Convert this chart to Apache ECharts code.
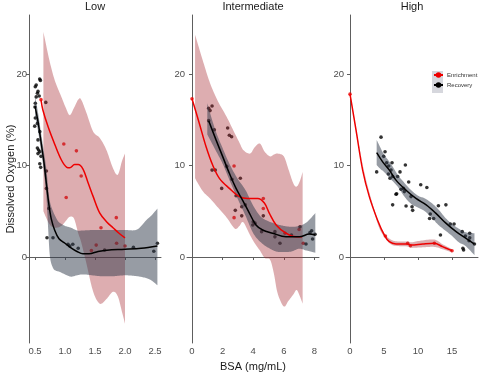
<!DOCTYPE html>
<html><head><meta charset="utf-8">
<script src="https://cdn.jsdelivr.net/npm/echarts@6/dist/echarts.min.js"></script>
<style>html,body{margin:0;padding:0;background:#fff}#c{width:480px;height:379px}</style>
</head><body><div id="c"></div>
<script>
// ---------- DATA ----------
const panelTitles = ['Low', 'Intermediate', 'High'];
const yTicks = [0, 10, 20];
const lowXTicks = [0.5, 1.0, 1.5, 2.0, 2.5];
const midXTicks = [0, 2, 4, 6, 8];
const highXTicks = [0, 5, 10, 15];

// Low panel
const lowRecPts = [[0.578,19.45],[0.59,19.3],[0.52,18.8],[0.505,18.6],[0.55,18.1],[0.54,17.9],[0.52,17.5],[0.57,17.6],[0.505,16.8],[0.5,16.4],[0.505,15.2],[0.495,14.3],[0.54,14.6],[0.58,13.7],[0.55,12.8],[0.54,11.9],[0.56,11.7],[0.55,11.3],[0.58,11.5],[0.6,11.0],[0.58,10.2],[0.595,9.8],[0.68,16.9],[0.69,9.4],[0.69,7.5],[0.73,5.3],[0.7,2.1],[0.8,2.1],[1.05,1.4],[1.08,1.2],[1.13,1.4],[1.22,0.95],[1.66,0.77],[2.14,1.06],[2.48,0.62],[2.54,1.5]];
const lowEnrPts = [[0.6,17.2],[0.98,12.35],[1.19,11.6],[1.27,8.85],[1.02,6.5],[1.855,4.3],[1.6,3.2],[1.52,1.3],[1.44,0.7],[1.86,1.5],[2.0,1.2]];
const lowEnrFit = [[0.6,17.2],[0.63,16.1],[0.72,14.2],[0.83,12.3],[0.94,10.6],[1.03,9.8],[1.08,9.75],[1.16,10.1],[1.22,10.1],[1.3,9.6],[1.38,8.2],[1.47,6.6],[1.58,4.8],[1.7,3.8],[1.8,3.2],[1.9,2.6],[2.0,2.1]];
const lowEnrBandX  = [0.64,0.74,0.83,0.94,1.02,1.08,1.15,1.22,1.27,1.36,1.47,1.58,1.69,1.8,1.88,1.95,2.0];
const lowEnrBandHi = [24.6,21.5,19.3,17.5,16.2,15.5,16.3,17.2,17.2,15.7,13.7,13.0,11.7,9.7,9.0,10.5,11.3];
const lowEnrBandLo = [5.0,3.6,3.2,3.4,4.0,4.4,4.2,2.6,1.6,-0.8,-3.8,-5.1,-4.6,-3.8,-4.3,-6.0,-7.3];
const lowRecFit = [[0.5,16.5],[0.55,14.8],[0.6,12.6],[0.65,10.3],[0.69,8.0],[0.73,5.8],[0.77,4.2],[0.83,2.9],[0.9,2.0],[1.0,1.5],[1.1,1.0],[1.2,0.6],[1.3,0.35],[1.4,0.35],[1.55,0.6],[1.7,0.75],[2.0,0.84],[2.27,0.95],[2.54,1.2]];
const lowRecBandX  = [0.5,0.55,0.6,0.65,0.69,0.72,0.75,0.8,0.85,0.9,1.0,1.1,1.2,1.3,1.45,1.6,1.8,2.0,2.2,2.35,2.45,2.54];
const lowRecBandHi = [17.6,15.8,13.6,11.4,9.6,7.5,6.0,5.0,4.3,3.8,3.4,3.2,2.9,2.9,2.95,2.95,2.95,2.95,3.0,4.0,4.6,5.3];
const lowRecBandLo = [15.4,13.8,11.6,9.2,6.6,3.0,0.0,-1.2,-1.5,-1.6,-1.9,-2.15,-2.0,-1.9,-2.0,-2.1,-2.1,-2.0,-2.1,-2.3,-2.6,-3.1];

// Intermediate panel
const midRecPts = [[1.09,16.25],[1.31,16.5],[1.18,16.0],[1.09,14.9],[1.46,13.9],[2.33,14.1],[2.44,13.3],[2.59,13.15],[1.31,9.5],[1.52,9.5],[1.94,7.5],[2.27,9.9],[2.61,8.5],[3.16,8.6],[2.88,6.7],[2.83,5.1],[3.25,5.5],[3.25,4.5],[4.0,3.86],[3.97,3.5],[4.12,3.7],[4.55,2.77],[4.66,4.5],[5.42,2.77],[5.42,2.2],[5.75,1.5],[6.5,2.4],[7.06,3.3],[7.45,1.42],[7.71,2.66],[7.82,2.87],[7.88,1.97],[8.04,2.48],[3.48,5.7]];
const midEnrPts = [[0,17.3],[2.75,9.95],[2.75,4.3],[4.66,6.4],[4.66,5.3],[6.08,2.6],[7.0,3.0],[7.27,1.5]];
const midEnrFit = [[0,17.3],[0.48,14.6],[0.92,12.05],[1.35,10.05],[1.79,8.6],[2.44,7.5],[3.09,6.6],[3.64,6.4],[4.3,6.4],[4.73,5.9],[5.05,4.8],[5.5,3.5],[6.14,2.6],[6.8,2.2],[7.2,2.2]];
const midEnrBandX  = [0.2,0.7,1.18,1.7,2.27,2.8,3.1,3.35,3.79,4.1,4.44,4.75,5.1,5.35,5.6,6.0,6.3,6.62,6.84,7.05,7.23];
const midEnrBandHi = [24.3,21.5,19.0,17.0,15.3,13.5,12.5,11.7,11.3,12.0,12.4,11.5,11.0,11.2,11.3,11.0,9.6,8.05,7.7,8.3,9.3];
const midEnrBandLo = [8.6,7.2,6.4,5.4,4.3,3.1,3.4,3.8,2.4,1.5,0.7,-0.1,-0.3,-1.8,-4.0,-5.4,-4.8,-4.1,-3.6,-4.3,-5.1];
const midRecFit = [[1.09,14.9],[1.57,12.8],[2.0,11.0],[2.44,9.15],[2.88,7.5],[3.31,6.2],[3.75,4.8],[4.18,3.5],[4.62,2.95],[5.27,2.6],[6.14,2.2],[7.01,2.2],[7.67,2.5],[8.06,2.4]];
const midRecBandX  = [1.0,1.5,2.0,2.5,3.0,3.5,4.0,4.5,5.0,5.5,6.0,6.5,7.0,7.5,8.06];
const midRecBandHi = [16.8,14.0,11.9,10.0,8.5,7.3,5.6,4.4,3.9,3.6,3.4,3.3,3.4,3.8,4.8];
const midRecBandLo = [13.4,11.8,10.2,8.2,6.3,4.5,2.6,1.6,1.0,0.6,0.55,0.6,0.9,0.7,0.47];

// High panel
const highRecPts = [[4.56,13.1],[3.92,9.3],[5.15,11.5],[4.95,11.0],[5.39,10.3],[5.69,9.95],[6.18,10.3],[5.64,9.07],[6.03,9.5],[5.88,8.6],[6.27,8.8],[7.35,9.3],[7.0,8.8],[8.14,10.05],[6.27,5.7],[6.76,6.85],[7.5,7.4],[8.24,5.57],[8.63,8.2],[7.99,7.15],[8.97,6.6],[9.12,5.5],[9.21,5.1],[10.4,7.9],[11.3,7.6],[11.8,4.7],[11.7,4.2],[12.3,4.2],[13.0,5.6],[14.1,5.7],[13.3,2.4],[14.75,3.6],[15.3,3.6],[16.5,2.77],[16.96,2.3],[17.6,2.6],[17.6,2.1],[17.5,1.78],[18.3,1.42],[16.6,0.95],[16.7,0.77],[6.86,6.9],[7.85,7.5]];
const highEnrPts = [[0,17.8],[5.2,2.3],[8.48,1.5],[8.87,1.23],[12.4,1.5],[15,0.69]];
const highEnrFit = [[0,17.8],[0.88,13.9],[1.86,9.5],[2.84,6.6],[4.07,4.0],[5.05,2.4],[5.78,1.67],[6.76,1.42],[8.48,1.42],[8.97,1.3],[10.7,1.42],[12.4,1.5],[13.6,1.13],[15.0,0.69]];
const highEnrBandX  = [0,2,4,5.05,6,7,8.5,9,10.5,12.4,13.6,15];
const highEnrBandHi = [17.9,9.6,4.2,2.6,1.9,1.7,1.7,1.6,1.8,1.9,1.4,0.85];
const highEnrBandLo = [17.7,9.4,3.8,2.2,1.4,1.2,1.15,1.0,1.05,1.1,0.85,0.5];
const highRecFit = [[3.92,11.4],[4.8,10.4],[5.78,9.5],[6.76,8.4],[8.24,7.3],[9.7,6.4],[11.2,5.7],[12.6,4.8],[14.1,3.7],[15.6,2.77],[17.06,2.04],[18.3,1.42]];
const highRecBandX  = [3.92,4.5,5,6,7,8,9,10,11,12,13,14,15,16,17,18.3];
const highRecBandHi = [12.8,11.9,11.2,10.2,9.0,8.1,7.3,6.7,6.4,5.9,5.2,4.3,3.6,3.1,2.7,2.6];
const highRecBandLo = [10.05,9.6,9.3,8.5,7.7,6.6,5.8,5.4,5.0,4.3,3.5,2.9,2.3,1.6,1.2,0.2];

// ---------- STYLE ----------
const FONT = 'Liberation Sans, Arial, Helvetica, sans-serif';
const RED = '#ee0000', BLACK = '#000000';
const RED_BAND = 'rgba(165,40,48,0.38)', GREY_BAND = 'rgba(47,58,74,0.5)';
const AXIS_COL = '#5e5e5e';

const grids = [
  {left: 29, top: 15, width: 132, height: 328},
  {left: 187, top: 15, width: 132, height: 328},
  {left: 346, top: 15, width: 132, height: 328}
];
const xRanges = [[0.4, 2.6], [-0.327, 8.3], [-0.59, 18.82]];
const xTickSets = [lowXTicks, midXTicks, highXTicks];

function catmull(pts) {
  const out = [];
  for (let i = 0; i < pts.length - 1; i++) {
    const p0 = pts[i - 1] || pts[i], p1 = pts[i], p2 = pts[i + 1], p3 = pts[i + 2] || pts[i + 1];
    const c1 = [p1[0] + (p2[0] - p0[0]) / 6, p1[1] + (p2[1] - p0[1]) / 6];
    const c2 = [p2[0] - (p3[0] - p1[0]) / 6, p2[1] - (p3[1] - p1[1]) / 6];
    const n = 10;
    for (let k = 0; k < n; k++) {
      const t = k / n, u = 1 - t;
      out.push([
        u*u*u*p1[0] + 3*u*u*t*c1[0] + 3*u*t*t*c2[0] + t*t*t*p2[0],
        u*u*u*p1[1] + 3*u*u*t*c1[1] + 3*u*t*t*c2[1] + t*t*t*p2[1]
      ]);
    }
  }
  out.push(pts[pts.length - 1]);
  return out;
}

function ribbon(idx, xs, lo, hi, color) {
  return {
    type: 'custom', xAxisIndex: idx, yAxisIndex: idx, silent: true, z: 2,
    data: [[xs[0], lo[0]]],
    renderItem: function (params, api) {
      const up = xs.map((x, i) => api.coord([x, hi[i]]));
      const dn = xs.map((x, i) => api.coord([x, lo[i]])).reverse();
      const pts = catmull(up).concat(catmull(dn));
      return {type: 'polygon', shape: {points: pts}, style: {fill: color}};
    }
  };
}
function fitLine(idx, name, data, color) {
  return {
    type: 'line', name: name, xAxisIndex: idx, yAxisIndex: idx, data: data,
    smooth: 0.35, showSymbol: false, symbol: 'circle', symbolSize: 4,
    lineStyle: {color: color, width: 1.5}, itemStyle: {color: color}, z: 3, silent: true
  };
}
function pts(idx, name, data, color) {
  return {
    type: 'scatter', name: name, xAxisIndex: idx, yAxisIndex: idx, data: data,
    symbol: 'circle', symbolSize: 3.6, itemStyle: {color: color}, z: 1, silent: true
  };
}

const xAxes = grids.map((g, i) => ({
  type: 'value', gridIndex: i, min: xRanges[i][0], max: xRanges[i][1],
  splitLine: {show: false},
  axisLine: {lineStyle: {color: AXIS_COL, width: 1}},
  axisTick: {length: 3, lineStyle: {color: AXIS_COL}, customValues: xTickSets[i]},
  axisLabel: {color: '#4d4d4d', fontSize: 9.5, fontFamily: FONT, margin: 3,
    customValues: xTickSets[i],
    formatter: v => i === 0 ? Number(v).toFixed(1) : String(v)},
  name: i === 1 ? 'BSA (mg/mL)' : '', nameLocation: 'middle', nameGap: 18, nameMoveOverlap: false,
  nameTextStyle: {fontSize: 11, color: '#1a1a1a', fontFamily: FONT}
}));
const yAxes = grids.map((g, i) => ({
  type: 'value', gridIndex: i, min: -9.4, max: 26.45,
  splitLine: {show: false},
  axisLine: {show: true, lineStyle: {color: AXIS_COL, width: 1}},
  axisTick: {show: true, length: 3, lineStyle: {color: AXIS_COL}, customValues: yTicks},
  axisLabel: {color: '#4d4d4d', fontSize: 9.5, fontFamily: FONT, margin: 2, customValues: yTicks},
  name: i === 0 ? 'Dissolved Oxygen (%)' : '', nameLocation: 'middle', nameGap: 13, nameRotate: 90,
  nameMoveOverlap: false,
  nameTextStyle: {fontSize: 11, color: '#1a1a1a', fontFamily: FONT}
}));

const series = [
  pts(0, 'ep0', lowEnrPts, RED), pts(0, 'rp0', lowRecPts, BLACK),
  pts(1, 'ep1', midEnrPts, RED), pts(1, 'rp1', midRecPts, BLACK),
  pts(2, 'ep2', highEnrPts, RED), pts(2, 'rp2', highRecPts, BLACK),
  ribbon(0, lowEnrBandX, lowEnrBandLo, lowEnrBandHi, RED_BAND),
  ribbon(0, lowRecBandX, lowRecBandLo, lowRecBandHi, GREY_BAND),
  ribbon(1, midEnrBandX, midEnrBandLo, midEnrBandHi, RED_BAND),
  ribbon(1, midRecBandX, midRecBandLo, midRecBandHi, GREY_BAND),
  ribbon(2, highEnrBandX, highEnrBandLo, highEnrBandHi, RED_BAND),
  ribbon(2, highRecBandX, highRecBandLo, highRecBandHi, GREY_BAND),
  fitLine(0, 'Enrichment', lowEnrFit, RED), fitLine(0, 'Recovery', lowRecFit, BLACK),
  fitLine(1, 'Enrichment', midEnrFit, RED), fitLine(1, 'Recovery', midRecFit, BLACK),
  fitLine(2, 'Enrichment', highEnrFit, RED), fitLine(2, 'Recovery', highRecFit, BLACK)
];

const titleX = [95, 253, 412];
const chart = echarts.init(document.getElementById('c'), null, {renderer: 'canvas'});
chart.setOption({
  animation: false,
  backgroundColor: '#ffffff',
  grid: grids,
  xAxis: xAxes,
  yAxis: yAxes,
  legend: {
    data: ['Enrichment', 'Recovery'], orient: 'vertical', left: 433, top: 72,
    itemWidth: 9, itemHeight: 7, itemGap: 4, padding: 0, selectedMode: false,
    textStyle: {fontSize: 6, color: '#333', fontFamily: FONT, padding: [0, 0, 0, -1]}
  },
  graphic: [
    {type: 'rect', left: 432, top: 71, z: 0, shape: {width: 11, height: 22}, style: {fill: '#d6d7dd'}}
  ].concat(panelTitles.map((t, i) => ({
    type: 'text', x: titleX[i], y: 1, z: 10,
    style: {text: t, fontSize: 11, fontFamily: FONT, fill: '#1a1a1a', textAlign: 'center', textVerticalAlign: 'top'}
  }))),
  series: series
});
</script></body></html>
